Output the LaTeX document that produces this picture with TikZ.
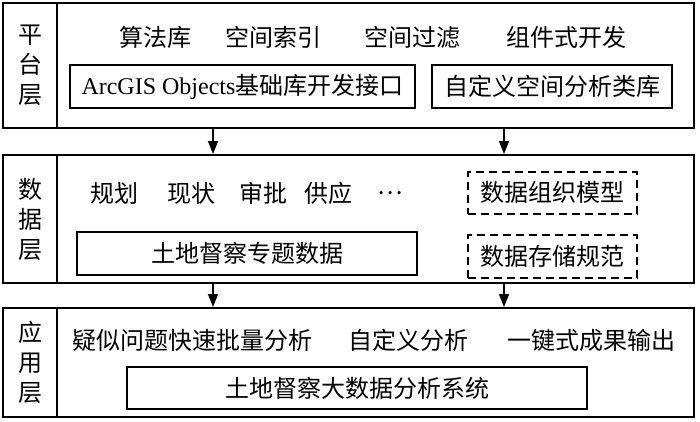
\documentclass[tikz,border=0pt]{standalone}
\usepackage{fontspec}
\setmainfont{Noto Sans CJK SC}
\newfontfamily\latinfont{Liberation Serif}
\usetikzlibrary{arrows.meta,positioning}
\tikzset{
  layer/.style={draw, line width=2pt, minimum width=691pt, inner sep=0pt},
  tag/.style={draw, line width=2pt, minimum width=54pt, align=center, inner sep=0pt, font=\fontsize{24}{30}\selectfont},
  word/.style={inner sep=2pt, font=\fontsize{24}{28}\selectfont},
  plainbox/.style={draw, line width=2pt, minimum height=43pt, inner sep=0pt, font=\fontsize{24}{28}\selectfont},
  dashbox/.style={draw, line width=2pt, dash pattern=on 8pt off 5pt, minimum width=169pt, minimum height=42pt, inner sep=0pt, font=\fontsize{24}{28}\selectfont},
  arrow/.style={-{Triangle[length=13pt,width=10pt]}, line width=1.5pt}
}

\begin{document}
\begin{tikzpicture}[x=1pt, y=1pt]
  \useasboundingbox (0,0) rectangle (700,421);

  % platform layer
  \node[layer, minimum height=125pt] (plat) at (348.5,355.5) {};
  \node[tag, minimum height=125pt] (plattag) at (30,355.5) {平\\台\\层};
  \node[word] (algo) at (155,384) {算法库};
  \node[word] (sindex) at (273,384) {空间索引};
  \node[word] (sfilter) at (412,384) {空间过滤};
  \node[word] (comp) at (566,384) {组件式开发};
  \node[plainbox, minimum width=345pt] (arcobj) at (242.5,334.5) {{\latinfont ArcGIS Objects}基础库开发接口};
  \node[plainbox, minimum width=240pt] (custlib) at (552,334.5) {自定义空间分析类库};

  % data layer
  \node[layer, minimum height=128pt] (data) at (348.5,202) {};
  \node[tag, minimum height=128pt] (datatag) at (30,202) {数\\据\\层};
  \node[word] (plan) at (114,228) {规划};
  \node[word] (status) at (191,228) {现状};
  \node[word] (approve) at (263,228) {审批};
  \node[word] (supply) at (328,228) {供应};
  \node[word] (more) at (390,228) {…};
  \node[dashbox] (model) at (552.5,228.5) {数据组织模型};
  \node[dashbox, below=19pt of model, minimum height=43pt] (norm) {数据存储规范};
  \node[plainbox, minimum width=340pt] (theme) at (247,168) {土地督察专题数据};

  % application layer
  \node[layer, minimum height=109pt] (app) at (348.5,58.5) {};
  \node[tag, minimum height=109pt] (apptag) at (30,58.5) {应\\用\\层};
  \node[word] (batch) at (192,81) {疑似问题快速批量分析};
  \node[word] (custom) at (408,81) {自定义分析};
  \node[word] (export) at (591,81) {一键式成果输出};
  \node[plainbox, minimum width=460pt, minimum height=42pt] (system) at (357,33) {土地督察大数据分析系统};

  \coordinate (lane1) at (213,0);
  \coordinate (lane2) at (504,0);
  \draw[arrow] (plat.south -| lane1) -- (data.north -| lane1);
  \draw[arrow] (plat.south -| lane2) -- (data.north -| lane2);
  \draw[arrow] (data.south -| lane1) -- (app.north -| lane1);
  \draw[arrow] (data.south -| lane2) -- (app.north -| lane2);
\end{tikzpicture}
\end{document}
